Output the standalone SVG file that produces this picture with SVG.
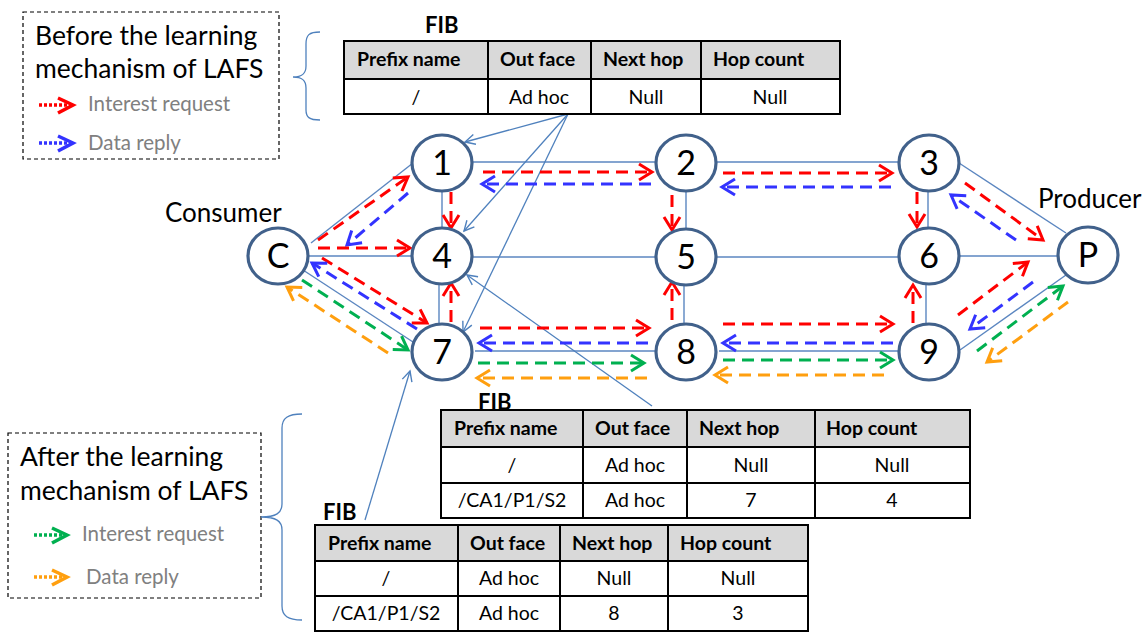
<svg xmlns="http://www.w3.org/2000/svg" width="1146" height="632" viewBox="0 0 1146 632">
<style>
text{font-family:Lato,"Open Sans","Liberation Sans",sans-serif;fill:#000}
.node ellipse{fill:#fff;stroke:#41618b;stroke-width:3.2}
.node text{font-size:34px;text-anchor:middle}
.link{stroke:#5b86c0;stroke-width:1.4;fill:none}
.ann{stroke:#4f81bd;stroke-width:1.3;fill:none;marker-end:url(#aA)}
.d{fill:none;stroke-width:3;stroke-dasharray:12 7}
.r{stroke:#ff0000;marker-end:url(#aR)}
.b{stroke:#3333ff;marker-end:url(#aB)}
.g{stroke:#00b050;marker-end:url(#aG)}
.o{stroke:#ff9f0f;marker-end:url(#aO)}
.lg{fill:none;stroke-width:3.5;stroke-dasharray:3 2}
.legbox{fill:none;stroke:#000;stroke-width:1.2;stroke-dasharray:4 3}
.title{font-size:26.5px}
.lt{font-size:20.5px;fill:#808080}
.lbl{font-size:26px}
.fib{font-size:22px;font-weight:bold}
.th{fill:#d9d9d9;stroke:#000;stroke-width:2}
.td{fill:#fff;stroke:#000;stroke-width:2}
.h{font-size:19.5px;font-weight:bold}
.c{font-size:19.5px;text-anchor:middle}
.brace{fill:none;stroke:#4f81bd;stroke-width:1.3}
</style>
<defs>
<marker id="aR" markerUnits="userSpaceOnUse" markerWidth="20" markerHeight="20" refX="15" refY="9" orient="auto" overflow="visible"><path d="M2,1 L15,9 L2,17" fill="none" stroke="#ff0000" stroke-width="3"/></marker>
<marker id="aB" markerUnits="userSpaceOnUse" markerWidth="20" markerHeight="20" refX="15" refY="9" orient="auto" overflow="visible"><path d="M2,1 L15,9 L2,17" fill="none" stroke="#3333ff" stroke-width="3"/></marker>
<marker id="aG" markerUnits="userSpaceOnUse" markerWidth="20" markerHeight="20" refX="15" refY="9" orient="auto" overflow="visible"><path d="M2,1 L15,9 L2,17" fill="none" stroke="#00b050" stroke-width="3"/></marker>
<marker id="aO" markerUnits="userSpaceOnUse" markerWidth="20" markerHeight="20" refX="15" refY="9" orient="auto" overflow="visible"><path d="M2,1 L15,9 L2,17" fill="none" stroke="#ff9f0f" stroke-width="3"/></marker>
<marker id="aA" markerUnits="userSpaceOnUse" markerWidth="14" markerHeight="14" refX="11" refY="6" orient="auto" overflow="visible"><path d="M1,1 L11,6 L1,11" fill="none" stroke="#4f81bd" stroke-width="1.4"/></marker>
</defs>

<!-- Legend boxes -->
<g id="legend-before">
<rect class="legbox" x="23" y="12" width="256" height="147"/>
<text class="title" x="35" y="45">Before the learning</text>
<text class="title" x="35" y="78">mechanism of LAFS</text>
<line class="lg" x1="39" y1="105" x2="70" y2="105" stroke="#ff0000"/>
<path d="M58,98 L73,105 L58,113" fill="none" stroke="#ff0000" stroke-width="3.5"/>
<text class="lt" x="88" y="111">Interest request</text>
<line class="lg" x1="39" y1="143" x2="70" y2="143" stroke="#3333ff"/>
<path d="M58,136 L73,143 L58,151" fill="none" stroke="#3333ff" stroke-width="3.5"/>
<text class="lt" x="88" y="150">Data reply</text>
</g>
<g id="legend-after">
<rect class="legbox" x="8" y="433" width="253" height="165"/>
<text class="title" x="20" y="466">After the learning</text>
<text class="title" x="20" y="500">mechanism of LAFS</text>
<line class="lg" x1="34" y1="535" x2="65" y2="535" stroke="#00b050"/>
<path d="M52,528 L67,535 L52,543" fill="none" stroke="#00b050" stroke-width="3.5"/>
<text class="lt" x="82" y="541">Interest request</text>
<line class="lg" x1="34" y1="577" x2="65" y2="577" stroke="#ff9f0f"/>
<path d="M52,570 L67,577 L52,585" fill="none" stroke="#ff9f0f" stroke-width="3.5"/>
<text class="lt" x="86" y="584">Data reply</text>
</g>
<g id="braces">
<path class="brace" d="M320,32 C309,32 306,35 306,44 L306,66 C306,74 302,77 293,77 C302,77 306,80 306,88 L306,110 C306,117 309,120 320,120"/>
<path class="brace" d="M302,414 C288,414 282,418 282,428 L282,504 C282,513 276,517 261,517 C276,517 282,521 282,530 L282,606 C282,616 288,620 302,620"/>
</g>

<!-- connectors -->
<g id="connectors">
<line class="link" x1="311" y1="243" x2="413" y2="163"/>
<line class="link" x1="308" y1="256" x2="412" y2="256"/>
<line class="link" x1="303" y1="270" x2="413" y2="342"/>
<line class="link" x1="472" y1="162" x2="655" y2="162"/>
<line class="link" x1="716" y1="162" x2="899" y2="162"/>
<line class="link" x1="442" y1="191" x2="442" y2="228"/>
<line class="link" x1="439" y1="284" x2="439" y2="324"/>
<line class="link" x1="686" y1="191" x2="686" y2="229"/>
<line class="link" x1="684" y1="285" x2="684" y2="324"/>
<line class="link" x1="928" y1="191" x2="928" y2="228"/>
<line class="link" x1="926" y1="284" x2="926" y2="324"/>
<line class="link" x1="472" y1="257" x2="655" y2="257"/>
<line class="link" x1="716" y1="257" x2="899" y2="257"/>
<line class="link" x1="959" y1="256" x2="1058" y2="256"/>
<line class="link" x1="475" y1="351" x2="655" y2="351"/>
<line class="link" x1="719" y1="351" x2="899" y2="351"/>
<line class="link" x1="959" y1="163" x2="1066" y2="233"/>
<line class="link" x1="960" y1="350" x2="1066" y2="275"/>

<line class="ann" x1="568" y1="114" x2="465" y2="142"/>
<line class="ann" x1="568" y1="114" x2="464" y2="231"/>
<line class="ann" x1="568" y1="114" x2="463" y2="332"/>
<line class="ann" x1="652" y1="406" x2="467" y2="275"/>
<line class="ann" x1="365" y1="520" x2="410" y2="371"/>

<!-- red interest / blue data (before) -->
<line class="d r" x1="318" y1="240" x2="408" y2="177"/>
<line class="d b" x1="408" y1="193" x2="347" y2="245"/>
<line class="d r" x1="318" y1="248" x2="410" y2="248"/>
<line class="d r" x1="322" y1="258" x2="427" y2="323"/>
<line class="d b" x1="417" y1="329" x2="312" y2="263"/>
<line class="d r" x1="451" y1="192" x2="451" y2="228"/>
<line class="d r" x1="451" y1="322" x2="451" y2="283"/>
<line class="d r" x1="483" y1="172" x2="652" y2="172"/>
<line class="d b" x1="651" y1="184" x2="482" y2="184"/>
<line class="d r" x1="672" y1="195" x2="672" y2="230"/>
<line class="d r" x1="672" y1="320" x2="672" y2="282"/>
<line class="d r" x1="480" y1="328" x2="649" y2="328"/>
<line class="d b" x1="648" y1="343" x2="479" y2="343"/>
<line class="d r" x1="723" y1="173" x2="892" y2="173"/>
<line class="d b" x1="891" y1="187" x2="722" y2="187"/>
<line class="d r" x1="917" y1="192" x2="917" y2="227"/>
<line class="d r" x1="965" y1="183" x2="1043" y2="240"/>
<line class="d b" x1="1016" y1="240" x2="951" y2="195"/>
<line class="d r" x1="913" y1="323" x2="913" y2="285"/>
<line class="d r" x1="723" y1="324" x2="893" y2="324"/>
<line class="d b" x1="893" y1="343" x2="723" y2="343"/>
<line class="d r" x1="958" y1="315" x2="1028" y2="262"/>
<line class="d b" x1="1033" y1="282" x2="970" y2="329"/>

<!-- green interest / orange data (after) -->
<line class="d g" x1="302" y1="280" x2="408" y2="350"/>
<line class="d o" x1="388" y1="353" x2="287" y2="287"/>
<line class="d g" x1="478" y1="363" x2="644" y2="363"/>
<line class="d o" x1="647" y1="378" x2="477" y2="378"/>
<line class="d g" x1="723" y1="360" x2="893" y2="360"/>
<line class="d o" x1="884" y1="375" x2="715" y2="375"/>
<line class="d g" x1="977" y1="351" x2="1063" y2="286"/>
<line class="d o" x1="1068" y1="302" x2="987" y2="362"/>
</g>

<!-- nodes -->
<g id="node-1" class="node"><ellipse cx="442" cy="163" rx="30" ry="28"/><text x="442" y="175">1</text></g>
<g id="node-2" class="node"><ellipse cx="686" cy="163" rx="30" ry="28"/><text x="686" y="175">2</text></g>
<g id="node-3" class="node"><ellipse cx="929" cy="163" rx="30" ry="28"/><text x="929" y="175">3</text></g>
<g id="node-C" class="node"><ellipse cx="278" cy="256" rx="30" ry="28"/><text x="278" y="268">C</text></g>
<g id="node-4" class="node"><ellipse cx="442" cy="256" rx="30" ry="28"/><text x="442" y="268">4</text></g>
<g id="node-5" class="node"><ellipse cx="686" cy="257" rx="30" ry="28"/><text x="686" y="269">5</text></g>
<g id="node-6" class="node"><ellipse cx="929" cy="256" rx="30" ry="28"/><text x="929" y="268">6</text></g>
<g id="node-P" class="node"><ellipse cx="1088" cy="255" rx="30" ry="28"/><text x="1088" y="267">P</text></g>
<g id="node-7" class="node"><ellipse cx="442" cy="352" rx="30" ry="28"/><text x="442" y="364">7</text></g>
<g id="node-8" class="node"><ellipse cx="686" cy="352" rx="30" ry="28"/><text x="686" y="364">8</text></g>
<g id="node-9" class="node"><ellipse cx="929" cy="352" rx="30" ry="28"/><text x="929" y="364">9</text></g>

<g id="label-consumer"><text class="lbl" x="165" y="222">Consumer</text></g>
<g id="label-producer"><text class="lbl" x="1038" y="208">Producer</text></g>

<!-- FIB top -->
<g id="fib-top">
<text class="fib" x="425" y="33">FIB</text>
<rect class="th" x="344" y="41" width="144" height="38"/>
<rect class="th" x="488" y="41" width="103" height="38"/>
<rect class="th" x="591" y="41" width="110" height="38"/>
<rect class="th" x="701" y="41" width="139" height="38"/>
<rect class="td" x="344" y="79" width="144" height="35"/>
<rect class="td" x="488" y="79" width="103" height="35"/>
<rect class="td" x="591" y="79" width="110" height="35"/>
<rect class="td" x="701" y="79" width="139" height="35"/>
<text class="h" x="357" y="66">Prefix name</text>
<text class="h" x="500" y="66">Out face</text>
<text class="h" x="603" y="66">Next hop</text>
<text class="h" x="713" y="66">Hop count</text>
<text class="c" x="416" y="104">/</text>
<text class="c" x="539" y="104">Ad hoc</text>
<text class="c" x="646" y="104">Null</text>
<text class="c" x="770" y="104">Null</text>
</g>

<!-- FIB middle -->
<g id="fib-mid">
<text class="fib" x="478" y="410">FIB</text>
<rect class="th" x="441" y="410" width="142" height="37"/>
<rect class="th" x="583" y="410" width="104" height="37"/>
<rect class="th" x="687" y="410" width="128" height="37"/>
<rect class="th" x="815" y="410" width="155" height="37"/>
<rect class="td" x="441" y="447" width="142" height="36"/>
<rect class="td" x="583" y="447" width="104" height="36"/>
<rect class="td" x="687" y="447" width="128" height="36"/>
<rect class="td" x="815" y="447" width="155" height="36"/>
<rect class="td" x="441" y="483" width="142" height="35"/>
<rect class="td" x="583" y="483" width="104" height="35"/>
<rect class="td" x="687" y="483" width="128" height="35"/>
<rect class="td" x="815" y="483" width="155" height="35"/>
<text class="h" x="454" y="435">Prefix name</text>
<text class="h" x="595" y="435">Out face</text>
<text class="h" x="699" y="435">Next hop</text>
<text class="h" x="826" y="435">Hop count</text>
<text class="c" x="512" y="472">/</text>
<text class="c" x="635" y="472">Ad hoc</text>
<text class="c" x="751" y="472">Null</text>
<text class="c" x="892" y="472">Null</text>
<text class="c" x="512" y="507">/CA1/P1/S2</text>
<text class="c" x="635" y="507">Ad hoc</text>
<text class="c" x="751" y="507">7</text>
<text class="c" x="892" y="507">4</text>
</g>

<!-- FIB lower -->
<g id="fib-low">
<text class="fib" x="323" y="520">FIB</text>
<rect class="th" x="315" y="525" width="143" height="36"/>
<rect class="th" x="458" y="525" width="102" height="36"/>
<rect class="th" x="560" y="525" width="108" height="36"/>
<rect class="th" x="668" y="525" width="140" height="36"/>
<rect class="td" x="315" y="561" width="143" height="35"/>
<rect class="td" x="458" y="561" width="102" height="35"/>
<rect class="td" x="560" y="561" width="108" height="35"/>
<rect class="td" x="668" y="561" width="140" height="35"/>
<rect class="td" x="315" y="596" width="143" height="35"/>
<rect class="td" x="458" y="596" width="102" height="35"/>
<rect class="td" x="560" y="596" width="108" height="35"/>
<rect class="td" x="668" y="596" width="140" height="35"/>
<text class="h" x="328" y="550">Prefix name</text>
<text class="h" x="470" y="550">Out face</text>
<text class="h" x="572" y="550">Next hop</text>
<text class="h" x="680" y="550">Hop count</text>
<text class="c" x="386" y="585">/</text>
<text class="c" x="509" y="585">Ad hoc</text>
<text class="c" x="614" y="585">Null</text>
<text class="c" x="738" y="585">Null</text>
<text class="c" x="386" y="620">/CA1/P1/S2</text>
<text class="c" x="509" y="620">Ad hoc</text>
<text class="c" x="614" y="620">8</text>
<text class="c" x="738" y="620">3</text>
</g>
</svg>
